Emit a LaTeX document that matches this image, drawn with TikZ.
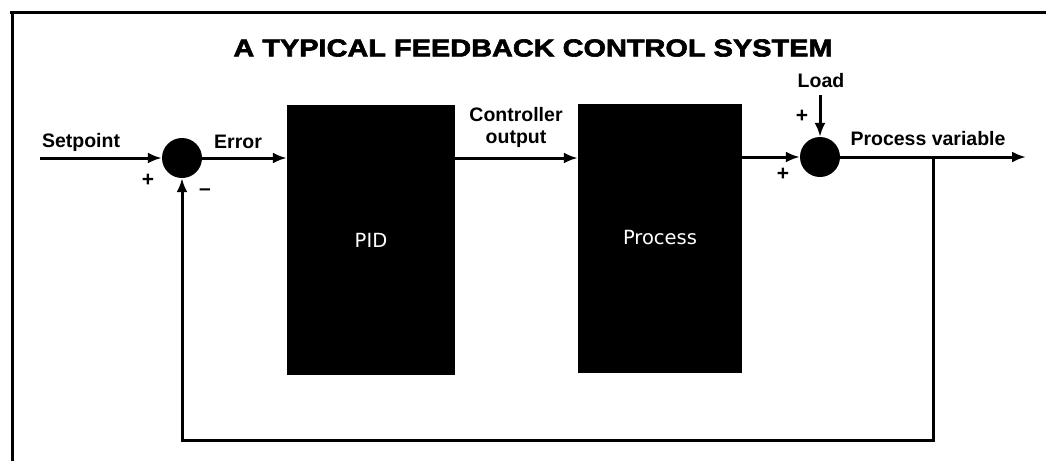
\documentclass[tikz,border=0pt]{standalone}
\usepackage{fontspec}
\setmainfont{Liberation Sans}
\newfontfamily\titlefont[FakeStretch=1.18,FakeBold=2.5]{Liberation Sans Bold}
\newfontfamily\boxfont{DejaVu Sans}
\usetikzlibrary{arrows.meta}
\tikzset{
  lbl/.style={font=\fontsize{19.5}{22}\selectfont\bfseries, inner sep=0pt},
  sgn/.style={font=\fontsize{21}{23}\selectfont\bfseries, inner sep=0pt},
  sumpt/.style={circle, fill=black, minimum size=40pt, inner sep=0pt},
  blk/.style={rectangle, fill=black, text=white, font=\boxfont\fontsize{19.5}{22}\selectfont, inner sep=0pt},
  wire/.style={line width=3pt},
  arr/.style={wire, -{Latex[length=14pt,width=11pt]}},
  frame/.style={line width=3pt}
}
\begin{document}
\begin{tikzpicture}[x=1pt,y=-1pt]
\useasboundingbox (0,0) rectangle (1046,461);
\fill[white] (0,0) rectangle (1046,461);
% frame
\draw[frame] (10,12) -- (1046,12);
\draw[frame] (12,12) -- (12,461);
% title
\node[font=\titlefont\fontsize{24.5}{26}\selectfont, inner sep=0pt] (title) at (533,48) {A TYPICAL FEEDBACK CONTROL SYSTEM};
% nodes
\node[lbl] (sp) at (81,142) {Setpoint};
\coordinate (in) at (40,158);
\node[sumpt] (s1) at (182,158) {};
\node[lbl] (err) at (238,142) {Error};
\node[blk, minimum width=168pt, minimum height=270pt] (pid) at (371,240) {PID};
\node[lbl, align=center] (co) at (516,127) {Controller\\output};
\node[blk, minimum width=164pt, minimum height=269pt] (proc) at (660,238) {Process};
\node[sumpt] (s2) at (820,157) {};
\node[lbl] (load) at (821,81) {Load};
\coordinate (ld) at (820,95);
\node[lbl] (pv) at (928,139) {Process variable};
\coordinate (out) at (1026,157);
\coordinate (br) at (933,157);
\coordinate (bl) at (933,440);
\coordinate (fb) at (182,440);
% signs
\node[sgn] (p1) at (148,180) {+};
\node[sgn] (m1) at (205,192) {\textendash};
\node[sgn] (p2) at (783,174) {+};
\node[sgn] (p3) at (802,116) {+};
% connectors
\draw[arr] (in) -- (s1.west);
\draw[arr] (s1.east) -- (s1.east -| pid.west);
\draw[arr] (pid.east |- s1) -- (proc.west |- s1);
\draw[arr] (proc.east |- s2) -- (s2.west);
\draw[arr] (ld) -- (s2.north);
\draw[arr] (s2.east) -- (out);
\draw[arr] (br) -- (bl) -- (fb) -- (s1.south);
\end{tikzpicture}
\end{document}
